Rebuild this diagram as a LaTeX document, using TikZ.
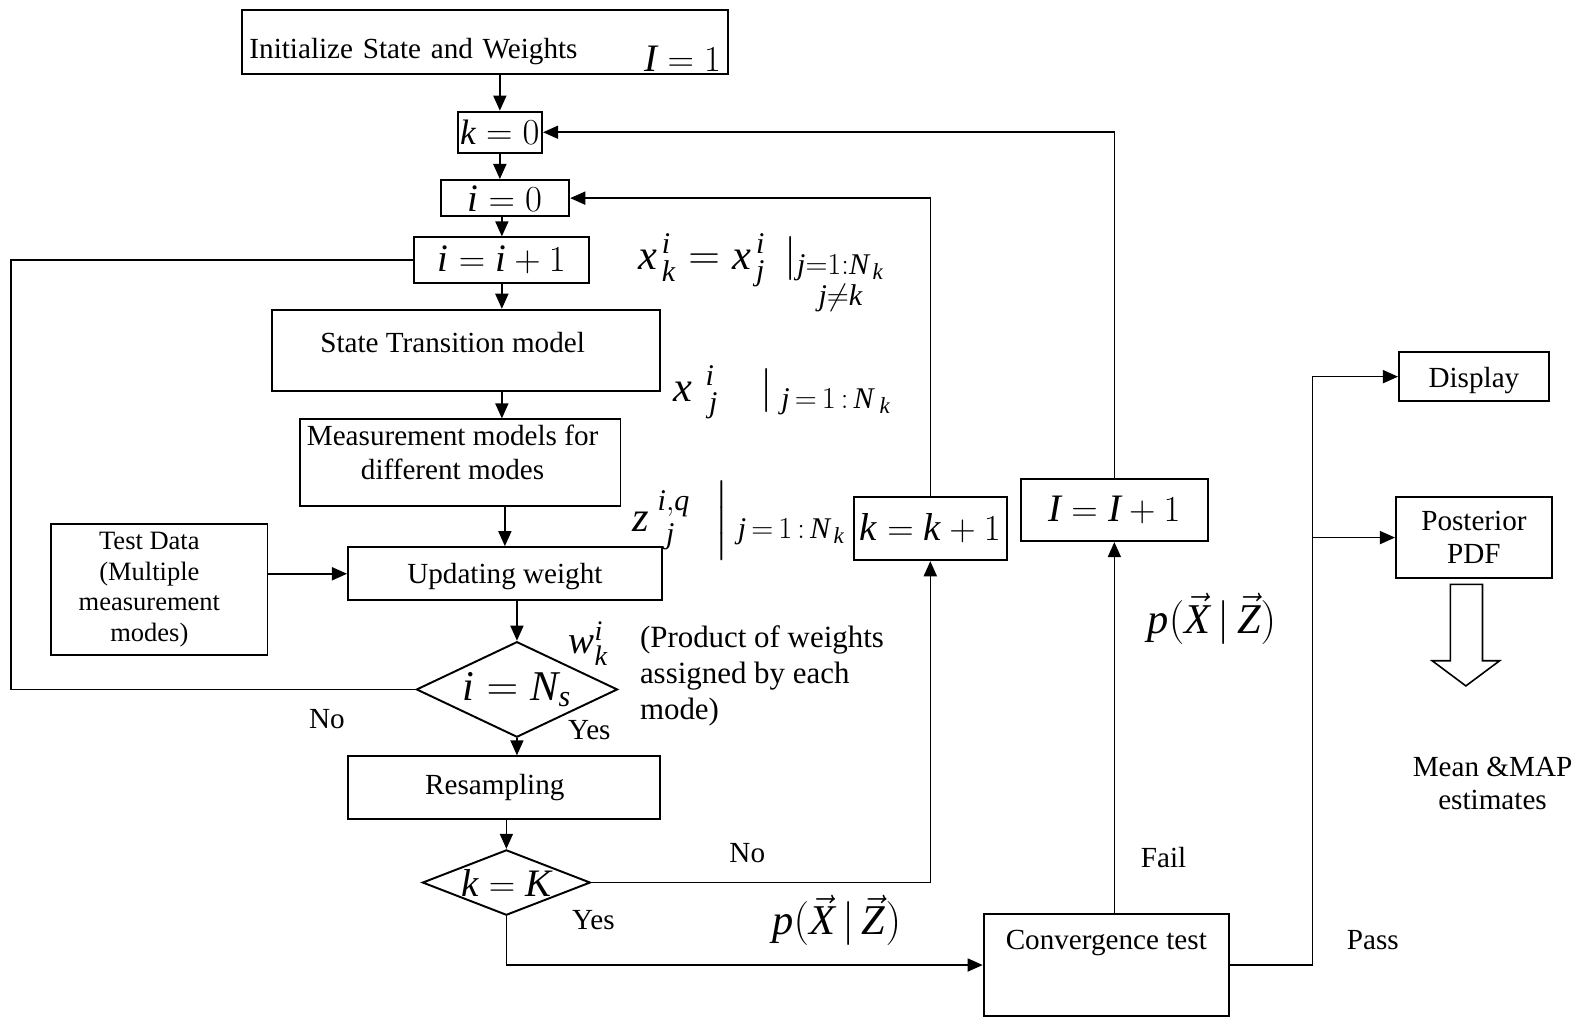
\documentclass[tikz,border=0pt]{standalone}
\usepackage{amsmath}
\usepackage{fontspec}
\setmainfont{Liberation Serif}
\usetikzlibrary{arrows.meta,shapes.geometric,calc}

% Times-like letters and digits in formulas
\DeclareSymbolFont{tletters}{TU}{\rmdefault}{m}{it}
\DeclareSymbolFont{tdigits}{TU}{\rmdefault}{m}{n}
\newcommand{\mathlet}[1]{\Umathcode`#1="7 \symtletters `#1\relax}
\newcommand{\mathdig}[1]{\Umathcode`#1="7 \symtdigits `#1\relax}
\mathlet i\mathlet j\mathlet k\mathlet p\mathlet q\mathlet s\mathlet w\mathlet x\mathlet z
\mathlet I\mathlet K\mathlet N\mathlet X\mathlet Z
\mathdig 0\mathdig 1
\DeclareMathSizes{20}{20}{14}{10}
\DeclareMathSizes{22}{22}{16}{12}
\DeclareMathSizes{24}{24}{17}{13}

\newcommand{\ftext}{\fontsize{16.5}{19}\selectfont}
\newcommand{\fsmall}{\fontsize{15}{17.4}\selectfont}
\newcommand{\fprod}{\fontsize{17.5}{20.4}\selectfont}
\newcommand{\fmath}{\fontsize{22}{26}\selectfont}
\newcommand{\fbig}{\fontsize{24}{28}\selectfont}

\tikzset{
  box/.style={draw, line width=1.1pt, inner sep=0pt, align=center, font=\ftext},
  dia/.style={draw, diamond, line width=1.1pt, inner sep=0pt, font=\fmath},
  line/.style={line width=0.9pt},
  arr/.style={line width=0.9pt, -{Triangle[length=0.3cm,width=0.26cm]}},
  lbl/.style={inner sep=0pt, font=\ftext}
}

\begin{document}
\begin{tikzpicture}[x=0.02cm, y=-0.02cm]
    % Page frame
    \useasboundingbox (0,0) rectangle (1568,1011);

    % Main column of the filter loop
    \node[box, minimum width=9.66cm, minimum height=1.28cm, text width=9.38cm, text height=0.96cm, text depth=0.32cm, align=left] (init) at (482.5,42) {Initialize State and Weights\hfill\raisebox{-0.26cm}{\fmath$I=1$}};
    \node[box, font=\fontsize{20}{24}\selectfont, minimum width=1.68cm, minimum height=0.82cm] (k0) at (497,131.5) {$k=0$};
    \node[box, font=\fmath, minimum width=2.56cm, minimum height=0.72cm] (i0) at (502,197) {$i=0$};
    \node[box, font=\fmath, minimum width=3.48cm, minimum height=0.9cm] (ii1) at (499,258.5) {$i=i+1$};
    \node[box, minimum width=7.72cm, text height=0.84cm, text depth=0.78cm] (stm) at (463,348.5) {State Transition model\hspace*{0.52cm}};
    \node[box, minimum width=6.38cm, text height=0.87cm, text depth=0.85cm] (meas) at (457.5,460) {\begin{tabular}{@{}c@{}}Measurement models for\\different modes\end{tabular}\hspace*{0.3cm}};
    \node[box, minimum width=6.24cm, text height=0.72cm, text depth=0.34cm] (upd) at (502,570.5) {Updating weight};
    \node[box, font=\fsmall, minimum width=4.3cm, minimum height=2.6cm] (test) at (158.5,586) {\begin{tabular}{@{}c@{}}Test Data\\(Multiple\\measurement\\modes)\end{tabular}\hspace*{0.4cm}};
    \node[dia, minimum width=4cm, minimum height=1.9cm] (dN) at (514,685.5) {\makebox[0pt]{\fontsize{24}{28}\selectfont$i=N_s$}};
    \node[box, minimum width=6.2cm, minimum height=1.24cm] (res) at (501,783) {Resampling\hspace*{0.36cm}};
    \node[dia, minimum width=3.34cm, minimum height=1.3cm] (dK) at (503.5,877.5) {\makebox[0pt]{$k=K$}};

    % Counters and the test
    \node[box, font=\fmath, minimum width=3.04cm, minimum height=1.26cm] (kk1) at (925,525.5) {$k=k+1$};
    \node[box, font=\fmath, minimum width=3.72cm, minimum height=1.24cm] (II1) at (1108,507) {$I=I+1$};
    \node[box, minimum width=4.88cm, text height=0.7cm, text depth=1.32cm] (conv) at (1100,959.5) {Convergence test};
    \node[box, minimum width=2.98cm, text height=0.7cm, text depth=0.28cm] (disp) at (1465.5,374.5) {Display};
    \node[box, minimum width=3.1cm, minimum height=1.62cm] (post) at (1465.5,534.5) {Posterior\\PDF};

    % Hollow arrow below the posterior
    \draw[line width=0.9pt] (1442,581) -- (1474,581) -- (1474,657) -- (1491,657) -- (1457.5,682) -- (1424,657) -- (1442,657) -- cycle;

    % Labels
    \node[lbl, align=center] (est) at (1484,779) {Mean \&MAP\\estimates};
    \node[lbl] (noN) at (325,715) {No};
    \node[lbl] (yesN) at (586,726) {Yes};
    \node[lbl] (noK) at (743,848) {No};
    \node[lbl] (yesK) at (590,915) {Yes};
    \node[lbl] (fail) at (1157,853) {Fail};
    \node[lbl] (pass) at (1365,935) {Pass};
    \node[lbl, font=\fbig] (pxz1) at (1205,615) {$p(\vec{X}\,|\,\vec{Z})$};
    \node[lbl, font=\fbig] (pxz2) at (832,915) {$p(\vec{X}\,|\,\vec{Z})$};
    \node[lbl, font=\fmath] (wk) at (585,640) {$w_k^i$};
    \node[lbl, font=\fprod, align=left, anchor=west] (prod) at (636,672) {(Product of weights\\assigned by each\\mode)};
    \node[lbl, font=\fbig] (xeq) at (757,271) {$x^{\,i}_{\,k} = x^{\,i}_{\,j}\;\,|_{\substack{j=1:N_{\,k}\\ j\neq k}}$};
    \node[lbl, font=\fbig] (xj) at (778,390) {$x^{\;\,i}_{\;\;j}\quad|_{\;j\,=\,1\,:\,N_{\;k}}$};
    \node[lbl, font=\fbig] (zj) at (735,517) {$z^{\;i,q}_{\;\;j}\;\;\smash{\Big|}_{\;j\,=\,1\,:\,N_{\,k}}$};

    % Connectors
    \draw[arr] (init.south -| k0.north) -- (k0.north);
    \draw[arr] (k0.south) -- (k0.south |- i0.north);
    \draw[arr] (i0.south -| ii1.north) -- (ii1.north);
    \draw[arr] (ii1.south) -- (ii1.south |- stm.north);
    \draw[arr] (ii1.south |- stm.south) -- (ii1.south |- meas.north);
    \draw[arr] (upd.north |- meas.south) -- (upd.north);
    \draw[arr] (test.east |- upd.west) -- (upd.west);
    \draw[arr] (upd.south -| dN.north) -- (dN.north);
    \draw[line] (dN.west) -- ++(-402,0) |- (ii1.west);
    \draw[arr] (dN.south) -- (dN.south |- res.north);
    \draw[arr] (res.south -| dK.north) -- (dK.north);
    \draw[arr] (dK.east) -| (kk1.south);
    \draw[arr] (kk1.north) |- (i0.east);
    \draw[arr] (dK.south) |- (conv.west);
    \draw[arr] (conv.north -| II1.south) -- (II1.south);
    \draw[arr] (II1.north) |- (k0.east);
    \coordinate (split) at ($(conv.east)+(82,0)$);
    \draw[arr] (conv.east) -- (split) |- (disp.west);
    \draw[arr] (split |- post.west) -- (post.west);
\end{tikzpicture}
\end{document}
